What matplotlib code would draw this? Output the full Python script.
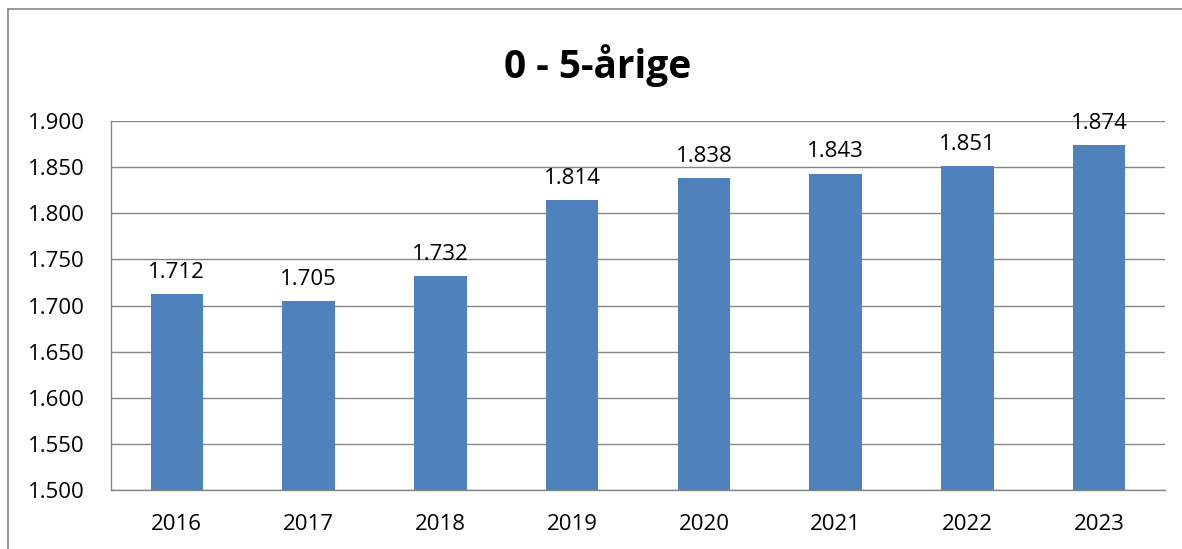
import matplotlib
matplotlib.use("Agg")
import matplotlib.pyplot as plt
from matplotlib.lines import Line2D
from matplotlib.ticker import FuncFormatter

years = ["2016", "2017", "2018", "2019", "2020", "2021", "2022", "2023"]
values = [1712, 1705, 1732, 1814, 1838, 1843, 1851, 1874]
title = "0 - 5-årige"

plt.rcParams['font.family'] = ['Open Sans', 'DejaVu Sans']

W, H = 1182, 549
fig = plt.figure(figsize=(W / 100, H / 100), dpi=100)
ax = fig.add_axes([111 / W, 1 - 490 / H, (1165 - 111) / W, (490 - 121) / H])

x = range(len(years))
bars = ax.bar(x, values, width=0.4, color="#4F81BD", zorder=3)
ax.set_xlim(-0.5, len(years) - 0.5)
ax.set_ylim(1500, 1900)
ax.set_yticks(range(1500, 1901, 50))
ax.yaxis.set_major_formatter(FuncFormatter(lambda v, p: f"{v/1000:.3f}"))
ax.set_xticks(list(x))
ax.set_xticklabels(years)
ax.grid(axis="y", color="#868686", linewidth=1.0, zorder=0)
ax.tick_params(axis="both", length=0, labelsize=16, colors="black")
ax.tick_params(axis="y", pad=19)
ax.tick_params(axis="x", pad=17)
for s in ["top", "right"]:
    ax.spines[s].set_visible(False)
for s in ["left", "bottom"]:
    ax.spines[s].set_color("#868686")
    ax.spines[s].set_linewidth(1.0)

for xi, v in zip(x, values):
    ax.annotate(f"{v/1000:.3f}", (xi, v), xytext=(0, 8), textcoords="offset points",
                ha="center", va="bottom", fontsize=16)

fig.text(598 / W, 1 - 66 / H, title, ha="center", va="center", fontsize=28, fontweight="bold")

fig.add_artist(Line2D([8 / W, 8 / W], [0, 1 - 9 / H], transform=fig.transFigure, color="#888888", linewidth=1.2))
fig.add_artist(Line2D([8 / W, 1], [1 - 9 / H, 1 - 9 / H], transform=fig.transFigure, color="#888888", linewidth=1.2))

fig.savefig("out.png", dpi=100)
